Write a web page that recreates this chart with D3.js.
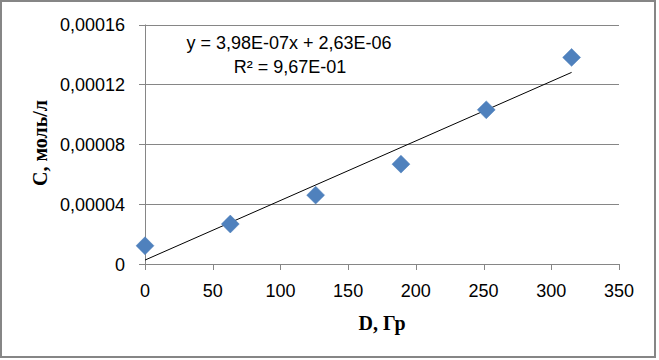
<!DOCTYPE html>
<html>
<head>
<meta charset="utf-8">
<script src="https://cdn.jsdelivr.net/npm/d3@7"></script>
<style>
  html, body { margin: 0; padding: 0; background: #fff; }
  svg { display: block; }
</style>
</head>
<body>
<svg id="chart" width="659" height="360"></svg>
<script>
// Data
const doseX = [0, 63, 126, 189, 252, 315];
const concY = [0.0000122, 0.0000267, 0.000046, 0.0000667, 0.000103, 0.000138];
const xTicks = [0, 50, 100, 150, 200, 250, 300, 350];
const yTicks = [0, 0.00004, 0.00008, 0.00012, 0.00016];
const yTickLabels = ["0", "0,00004", "0,00008", "0,00012", "0,00016"];
const trendSlope = 3.98e-7;
const trendIntercept = 2.63e-6;
const equationLines = ["y = 3,98E-07x + 2,63E-06", "R² = 9,67E-01"];
const xTitle = "D, Гр";
const yTitle = "С, моль/л";

const svg = d3.select("#chart");
const W = 659, H = 360;

// Outer border
svg.append("rect").attr("x", 1).attr("y", 1).attr("width", W - 5).attr("height", H - 4)
  .attr("fill", "#fff").attr("stroke", "#868686").attr("stroke-width", 2);

const x = d3.scaleLinear().domain([0, 350]).range([145, 619]);
const y = d3.scaleLinear().domain([0, 0.00016]).range([264, 24.5]);

const gridColor = "#868686";
const sansFont = "'Liberation Sans', Arial, sans-serif";
const serifFont = "'Liberation Serif', 'Times New Roman', serif";

// Gridlines
svg.append("g").selectAll("line").data(yTicks).join("line")
  .attr("x1", 139).attr("x2", x(350))
  .attr("y1", d => Math.round(y(d)) + 0.5).attr("y2", d => Math.round(y(d)) + 0.5)
  .attr("stroke", gridColor).attr("stroke-width", 1);

// Y axis line
svg.append("line").attr("x1", x(0) + 0.5).attr("x2", x(0) + 0.5)
  .attr("y1", y(0.00016)).attr("y2", y(0) + 6)
  .attr("stroke", gridColor).attr("stroke-width", 1);

// X ticks
svg.append("g").selectAll("line").data(xTicks).join("line")
  .attr("x1", d => Math.round(x(d)) + 0.5).attr("x2", d => Math.round(x(d)) + 0.5)
  .attr("y1", y(0)).attr("y2", y(0) + 6)
  .attr("stroke", gridColor).attr("stroke-width", 1);

// X tick labels
svg.append("g").selectAll("text").data(xTicks).join("text")
  .attr("x", d => x(d)).attr("y", 297)
  .attr("text-anchor", "middle")
  .attr("font-family", sansFont).attr("font-size", 18).attr("fill", "#000")
  .text(d => d);

// Y tick labels
svg.append("g").selectAll("text").data(yTicks).join("text")
  .attr("x", 125).attr("y", d => y(d) + 6.5)
  .attr("text-anchor", "end")
  .attr("font-family", sansFont).attr("font-size", 18).attr("fill", "#000")
  .text((d, i) => yTickLabels[i]);

// Trend line
svg.append("line")
  .attr("x1", x(0)).attr("y1", y(trendIntercept))
  .attr("x2", x(315)).attr("y2", y(trendSlope * 315 + trendIntercept))
  .attr("stroke", "#000").attr("stroke-width", 1);

// Markers (diamonds)
const pts = doseX.map((d, i) => ({ x: d, y: concY[i] }));
const sym = d3.symbol().type(d3.symbolSquare).size(160);
svg.append("g").selectAll("path").data(pts).join("path")
  .attr("d", sym)
  .attr("transform", d => `translate(${x(d.x)},${y(d.y)}) rotate(45)`)
  .attr("fill", "#4F81BD").attr("stroke", "#4A7EBB").attr("stroke-width", 0.5);

// Equation
svg.append("text").attr("x", 289).attr("y", 49).attr("text-anchor", "middle")
  .attr("font-family", sansFont).attr("font-size", 18).attr("fill", "#000")
  .text(equationLines[0]);
svg.append("text").attr("x", 290).attr("y", 73).attr("text-anchor", "middle")
  .attr("font-family", sansFont).attr("font-size", 18).attr("fill", "#000")
  .text(equationLines[1]);

// Axis titles
svg.append("text").attr("x", 382).attr("y", 330).attr("text-anchor", "middle")
  .attr("font-family", serifFont).attr("font-size", 20).attr("font-weight", "bold").attr("fill", "#000")
  .text(xTitle);
svg.append("text").attr("transform", "translate(47,143) rotate(-90)").attr("text-anchor", "middle")
  .attr("font-family", serifFont).attr("font-size", 20).attr("font-weight", "bold").attr("fill", "#000")
  .text(yTitle);
</script>
</body>
</html>
